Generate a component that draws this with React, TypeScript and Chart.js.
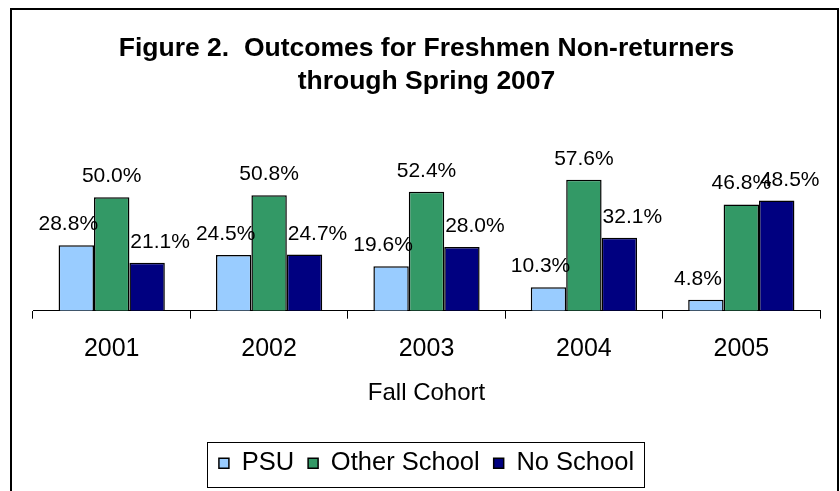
import React, { useEffect, useRef } from "react";
import { Chart, registerables } from "chart.js";

Chart.register(...registerables);

const categories = ["2001", "2002", "2003", "2004", "2005"];
const psu = [28.8, 24.5, 19.6, 10.3, 4.8];
const otherSchool = [50.0, 50.8, 52.4, 57.6, 46.8];
const noSchool = [21.1, 24.7, 28.0, 32.1, 48.5];
const titleLines = ["Figure 2.  Outcomes for Freshmen Non-returners", "through Spring 2007"];
const xTitle = "Fall Cohort";

const FONT = "'Liberation Sans', Arial, Helvetica, sans-serif";

const labelOffsets = [-8, 0, 13];

const dataLabelPlugin = {
  id: "dataLabels",
  afterDatasetsDraw(chart: any) {
    const ctx = chart.ctx;
    ctx.save();
    ctx.font = `21px ${FONT}`;
    ctx.fillStyle = "#000";
    ctx.textAlign = "center";
    ctx.textBaseline = "alphabetic";
    chart.data.datasets.forEach((ds: any, di: number) => {
      const meta = chart.getDatasetMeta(di);
      meta.data.forEach((bar: any, i: number) => {
        const v = ds.data[i];
        ctx.fillText(v.toFixed(1) + "%", bar.x + labelOffsets[di], bar.y - 15);
      });
    });
    ctx.restore();
  },
};

const framePlugin = {
  id: "frame",
  afterDraw(chart: any) {
    const ctx = chart.ctx;
    ctx.save();
    ctx.strokeStyle = "#000";
    ctx.lineWidth = 2;
    ctx.beginPath();
    ctx.moveTo(11, 495);
    ctx.lineTo(11, 9);
    ctx.lineTo(838, 9);
    ctx.lineTo(838, 495);
    ctx.stroke();
    // legend box
    const lg = chart.legend;
    if (lg && lg.legendHitBoxes && lg.legendHitBoxes.length) {
      const hb = lg.legendHitBoxes;
      const first = hb[0];
      const last = hb[hb.length - 1];
      const cy = first.top + first.height / 2;
      const left = first.left - 12;
      const right = last.left + last.width + 10;
      ctx.lineWidth = 1;
      ctx.strokeStyle = "#000";
      ctx.strokeRect(Math.round(left) + 0.5, Math.round(cy - 21) + 0.5, Math.round(right - left), 45);
    }
    ctx.restore();
  },
};

export default function App() {
  const ref = useRef<HTMLCanvasElement>(null);
  useEffect(() => {
    const canvas = ref.current!;
    const chart = new Chart(canvas, {
      type: "bar",
      data: {
        labels: categories,
        datasets: [
          { label: "PSU", data: psu, backgroundColor: "#99CCFF", borderColor: "#000", borderWidth: 1.5 },
          { label: "Other School", data: otherSchool, backgroundColor: "#339966", borderColor: "#000", borderWidth: 1.5 },
          { label: "No School", data: noSchool, backgroundColor: "#000080", borderColor: "#000", borderWidth: 1.5 },
        ],
      },
      options: {
        responsive: false,
        animation: false,
        events: [],
        layout: { padding: { left: 33, right: 20, top: 0, bottom: 5 } },
        datasets: { bar: { categoryPercentage: 0.675, barPercentage: 1.0 } },
        scales: {
          x: {
            offset: true,
            grid: { display: true, drawOnChartArea: false, offset: true, tickLength: 8, color: "#000", lineWidth: 1 },
            border: { display: true, color: "#000", width: 1 },
            ticks: { font: { family: FONT, size: 25 }, color: "#000", padding: 15 },
            title: {
              display: true,
              text: xTitle,
              font: { family: FONT, size: 24 },
              color: "#000",
              padding: { top: 0, bottom: 29 },
            },
          },
          y: { display: false, min: 0, max: 80 },
        },
        plugins: {
          title: {
            display: true,
            text: titleLines,
            font: { family: FONT, size: 26.5, weight: "bold", lineHeight: 1.245 },
            color: "#000",
            padding: { top: 32, bottom: 31 },
          },
          legend: {
            position: "bottom",
            labels: {
              font: { family: FONT, size: 25.5 },
              color: "#000",
              boxWidth: 10,
              boxHeight: 10,
              padding: 14,
            },
          },
          tooltip: { enabled: false },
        },
      },
      plugins: [dataLabelPlugin, framePlugin],
    });
    return () => chart.destroy();
  }, []);
  return (
    <div style={{ position: "absolute", left: 0, top: 0, width: 840, height: 491, background: "#fff" }}>
      <canvas ref={ref} width={840} height={491} style={{ display: "block" }} />
    </div>
  );
}
